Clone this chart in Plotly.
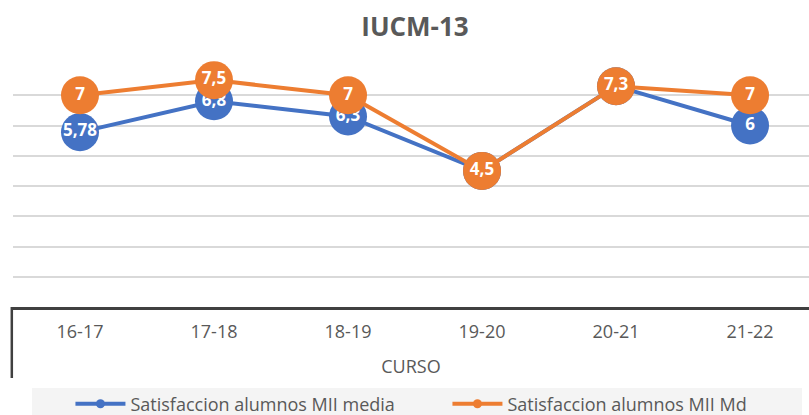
import plotly.graph_objects as go

cursos = ["16-17", "17-18", "18-19", "19-20", "20-21", "21-22"]
media = [5.78, 6.8, 6.3, 4.5, 7.3, 6]
md = [7, 7.5, 7, 4.5, 7.3, 7]
media_lbl = ["5,78", "6,8", "6,3", "4,5", "7,3", "6"]
md_lbl = ["7", "7,5", "7", "4,5", "7,3", "7"]

BLUE = "#4472C4"
ORANGE = "#ED7D31"
GREY = "#595959"
FONT = "Open Sans"

fig = go.Figure()
for name, vals, lbl, col in [("Satisfaccion alumnos MII media", media, media_lbl, BLUE),
                             ("Satisfaccion alumnos MII Md", md, md_lbl, ORANGE)]:
    fig.add_trace(go.Scatter(
        x=cursos, y=vals, text=lbl, mode="lines+markers+text",
        line=dict(color=col, width=4),
        marker=dict(color=col, size=38, line=dict(width=0)),
        textposition="middle center",
        textfont=dict(color="white", size=17, family=FONT, weight="bold"),
        showlegend=False, hoverinfo="skip", cliponaxis=False))
for name, col in [("Satisfaccion alumnos MII media", BLUE),
                  ("Satisfaccion alumnos MII Md", ORANGE)]:
    fig.add_trace(go.Scatter(
        x=[None], y=[None], name=name, mode="lines+markers",
        line=dict(color=col, width=4), marker=dict(color=col, size=9)))

L, T, B = 13, 65, 108
H = 415
PH = H - T - B

def py(px):
    return (H - B - px) / PH

fig.update_layout(
    width=809, height=415,
    margin=dict(l=L, r=0, t=T, b=B, autoexpand=False),
    paper_bgcolor="white", plot_bgcolor="white",
    title=dict(text="<b>IUCM-13</b>", x=0.513, xanchor="center", y=1 - 27 / H, yanchor="middle",
               font=dict(size=26, color=GREY, family=FONT)),
    font=dict(family=FONT, color=GREY),
    xaxis=dict(type="category", range=[-0.5, 5.44], showgrid=False, showline=True,
               linecolor="#404040", linewidth=2.5, ticks="",
               tickfont=dict(size=18, color=GREY, family=FONT), ticklabelstandoff=7,
               title=dict(text="CURSO", font=dict(size=18, color=GREY, family=FONT), standoff=19)),
    yaxis=dict(range=[0, 8], dtick=1, showticklabels=False, showgrid=True,
               gridcolor="#d9d9d9", gridwidth=1.5, zeroline=False, showline=False),
    legend=dict(orientation="h", x=(80 - L) / 796 - 0.012, xanchor="left", y=py(404), yanchor="middle",
                bgcolor="rgba(0,0,0,0)", font=dict(size=18, color=GREY, family=FONT),
                entrywidth=312, itemwidth=50),
    shapes=[
        dict(type="rect", xref="paper", yref="paper", x0=(32 - L) / 796, x1=(802 - L) / 796,
             y0=py(388), y1=py(415), fillcolor="#f4f4f4", line=dict(width=0), layer="below"),
        dict(type="line", xref="paper", yref="paper", x0=-0.0015, x1=-0.0015, y0=py(307), y1=py(378),
             line=dict(color="#404040", width=2.5)),
    ],
)
fig.write_html("out.html", config={"displayModeBar": False},
               post_script="document.body.style.margin='0px';document.body.style.overflow='hidden';")
